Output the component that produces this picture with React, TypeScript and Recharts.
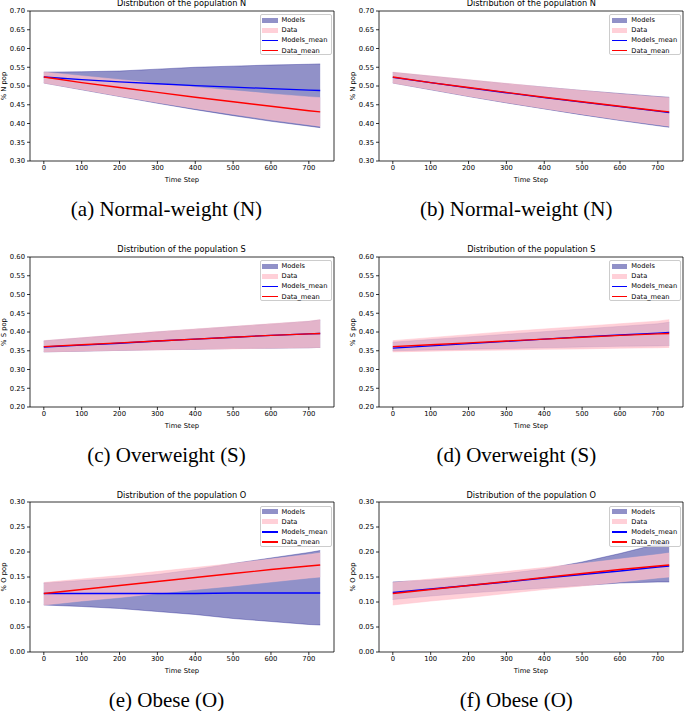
import React from "react";
import { Area, ComposedChart, Line, ReferenceArea, XAxis, YAxis } from "recharts";

const TIME = [0, 100, 200, 300, 400, 500, 600, 700, 730];
const X_TICKS = [0, 100, 200, 300, 400, 500, 600, 700];
const N_TICKS = [0.3, 0.35, 0.4, 0.45, 0.5, 0.55, 0.6, 0.65, 0.7];
const S_TICKS = [0.2, 0.25, 0.3, 0.35, 0.4, 0.45, 0.5, 0.55, 0.6];
const O_TICKS = [0, 0.05, 0.1, 0.15, 0.2, 0.25, 0.3];

// observed population shares (same in both columns)
const N_DATA_MEAN = [0.524, 0.509, 0.496, 0.483, 0.47, 0.458, 0.446, 0.434, 0.431];
const N_DATA_HIGH = [0.537, 0.527, 0.517, 0.507, 0.497, 0.488, 0.479, 0.471, 0.469];
const N_DATA_LOW = [0.508, 0.491, 0.473, 0.456, 0.44, 0.425, 0.41, 0.397, 0.393];

const S_DATA_MEAN = [0.361, 0.366, 0.371, 0.376, 0.381, 0.386, 0.391, 0.395, 0.396];
const S_DATA_HIGH = [0.377, 0.385, 0.393, 0.401, 0.408, 0.415, 0.422, 0.429, 0.433];
const S_DATA_LOW = [0.347, 0.349, 0.351, 0.352, 0.354, 0.355, 0.357, 0.358, 0.359];

const O_DATA_MEAN = [0.117, 0.125, 0.133, 0.141, 0.149, 0.157, 0.165, 0.172, 0.174];
const O_DATA_HIGH = [0.139, 0.146, 0.153, 0.161, 0.169, 0.177, 0.186, 0.195, 0.198];
const O_DATA_LOW = [0.094, 0.102, 0.109, 0.117, 0.125, 0.132, 0.14, 0.148, 0.15];

// model runs, left column
const N_MODELS_A_MEAN = [0.524, 0.517, 0.511, 0.506, 0.501, 0.497, 0.493, 0.489, 0.488];
const N_MODELS_A_HIGH = [0.537, 0.538, 0.54, 0.545, 0.55, 0.553, 0.556, 0.558, 0.559];
const N_MODELS_A_LOW = [0.508, 0.49, 0.472, 0.454, 0.437, 0.421, 0.406, 0.393, 0.389];

const S_MODELS_C_MEAN = [0.36, 0.365, 0.37, 0.376, 0.381, 0.386, 0.391, 0.395, 0.396];
const S_MODELS_C_HIGH = [0.376, 0.384, 0.392, 0.4, 0.407, 0.414, 0.421, 0.428, 0.432];
const S_MODELS_C_LOW = [0.347, 0.349, 0.351, 0.353, 0.354, 0.356, 0.357, 0.358, 0.359];

const O_MODELS_E_MEAN = [0.117, 0.117, 0.117, 0.117, 0.117, 0.118, 0.118, 0.118, 0.118];
const O_MODELS_E_HIGH = [0.138, 0.143, 0.148, 0.155, 0.165, 0.177, 0.188, 0.199, 0.203];
const O_MODELS_E_LOW = [0.094, 0.091, 0.087, 0.081, 0.075, 0.067, 0.061, 0.055, 0.054];

// model runs, right column
const N_MODELS_B_MEAN = [0.523, 0.509, 0.495, 0.482, 0.469, 0.457, 0.445, 0.433, 0.429];
const N_MODELS_B_HIGH = [0.536, 0.526, 0.516, 0.506, 0.497, 0.488, 0.48, 0.472, 0.47];
const N_MODELS_B_LOW = [0.508, 0.49, 0.472, 0.455, 0.439, 0.423, 0.408, 0.394, 0.39];

const S_MODELS_D_MEAN = [0.357, 0.363, 0.369, 0.375, 0.381, 0.387, 0.392, 0.397, 0.399];
const S_MODELS_D_HIGH = [0.373, 0.38, 0.387, 0.394, 0.401, 0.408, 0.415, 0.422, 0.426];
const S_MODELS_D_LOW = [0.35, 0.352, 0.354, 0.356, 0.358, 0.36, 0.362, 0.363, 0.364];

const O_MODELS_F_MEAN = [0.119, 0.126, 0.133, 0.14, 0.148, 0.155, 0.162, 0.17, 0.172];
const O_MODELS_F_HIGH = [0.14, 0.144, 0.15, 0.157, 0.166, 0.18, 0.197, 0.216, 0.219];
const O_MODELS_F_LOW = [0.105, 0.112, 0.118, 0.123, 0.128, 0.133, 0.138, 0.14, 0.14];

const X_DOMAIN: [number, number] = [-36.5, 766.5];
const YW = 30; // y axis width
const MT = 12;
const MR = 4;
const PW = 304;
const PH = 150;
const XH = 24;
const SANS = "'DejaVu Sans', sans-serif";
const TICK_FONT = 6.8;

interface Band {
  mean: number[];
  high: number[];
  low: number[];
}

interface PanelProps {
  left: number;
  top: number;
  pop: string;
  ticks: number[];
  models: Band;
  data: Band;
  caption: string;
}

function LegendBox({ x, y }: { x: number; y: number }) {
  const items = [
    { label: "Models", kind: "patch", color: "rgba(0,0,128,0.43)" },
    { label: "Data", kind: "patch", color: "rgba(255,192,203,0.75)" },
    { label: "Models_mean", kind: "line", color: "#0000ff" },
    { label: "Data_mean", kind: "line", color: "#ff0000" },
  ];
  return (
    <div
      style={{
        position: "absolute",
        left: x,
        top: y,
        width: 72,
        height: 41,
        border: "0.8px solid #cccccc",
        borderRadius: 2,
        background: "rgba(255,255,255,0.8)",
        boxSizing: "border-box",
      }}
    >
      {items.map((it, i) => {
        const cy = 5.2 + i * 10.1;
        return (
          <React.Fragment key={it.label}>
            {it.kind === "patch" ? (
              <div style={{ position: "absolute", left: 1.5, top: cy - 2.6, width: 15.5, height: 5.2, background: it.color }} />
            ) : (
              <div style={{ position: "absolute", left: 1.5, top: cy - 0.65, width: 15.5, height: 1.3, background: it.color }} />
            )}
            <div
              style={{
                position: "absolute",
                left: 21,
                top: cy - 5,
                height: 10,
                lineHeight: "10px",
                fontFamily: SANS,
                fontSize: 6.7,
                color: "#000",
                whiteSpace: "nowrap",
              }}
            >
              {it.label}
            </div>
          </React.Fragment>
        );
      })}
    </div>
  );
}

function Panel({ left, top, pop, ticks, models, data, caption }: PanelProps) {
  const rows = TIME.map((t, i) => ({
    t,
    models: [models.low[i], models.high[i]],
    data: [data.low[i], data.high[i]],
    modelsMean: models.mean[i],
    dataMean: data.mean[i],
  }));
  const yMin = ticks[0];
  const yMax = ticks[ticks.length - 1];
  const cx = left + PW / 2;

  return (
    <>
      <div style={{ position: "absolute", left: left - YW, top: top - MT }}>
        <ComposedChart
          width={YW + PW + MR}
          height={MT + PH + XH}
          data={rows}
          margin={{ top: MT, right: MR, bottom: 0, left: 0 }}
          style={{ fontFamily: SANS }}
        >
          <XAxis
            type="number"
            dataKey="t"
            domain={X_DOMAIN}
            ticks={X_TICKS}
            allowDataOverflow
            height={XH}
            axisLine={false}
            tickSize={3}
            tickMargin={1}
            tick={{ fontSize: TICK_FONT, fill: "#000" }}
            tickLine={{ stroke: "#000", strokeWidth: 0.8 }}
            label={{ value: "Time Step", position: "insideBottom", offset: 3, fontSize: TICK_FONT, fill: "#000" }}
          />
          <YAxis
            type="number"
            domain={[yMin, yMax]}
            ticks={ticks}
            allowDataOverflow
            width={YW}
            axisLine={false}
            tickSize={3}
            tickMargin={2}
            tick={{ fontSize: TICK_FONT, fill: "#000" }}
            tickLine={{ stroke: "#000", strokeWidth: 0.8 }}
            tickFormatter={(v: number) => v.toFixed(2)}
          />
          <Area
            dataKey="models"
            fill="#000080"
            fillOpacity={0.43}
            stroke="#000080"
            strokeOpacity={0.4}
            strokeWidth={0.8}
            isAnimationActive={false}
          />
          <Area
            dataKey="data"
            fill="#ffc0cb"
            fillOpacity={0.75}
            stroke="#ffc0cb"
            strokeOpacity={0.6}
            strokeWidth={0.8}
            isAnimationActive={false}
          />
          <Line dataKey="modelsMean" stroke="#0000ff" strokeWidth={1.3} dot={false} activeDot={false} isAnimationActive={false} />
          <Line dataKey="dataMean" stroke="#ff0000" strokeWidth={1.3} dot={false} activeDot={false} isAnimationActive={false} />
          <ReferenceArea x1={X_DOMAIN[0]} x2={X_DOMAIN[1]} y1={yMin} y2={yMax} fill="none" stroke="#000" strokeWidth={0.8} />
        </ComposedChart>
      </div>
      <div
        style={{
          position: "absolute",
          left: cx - 120,
          width: 240,
          top: top - 7.7 - 6,
          height: 12,
          lineHeight: "12px",
          textAlign: "center",
          fontFamily: SANS,
          fontSize: 8.2,
          color: "#000",
        }}
      >
        {`Distribution of the population ${pop}`}
      </div>
      <div
        style={{
          position: "absolute",
          left: left - 26 - 30,
          top: top + PH / 2 - 5,
          width: 60,
          height: 10,
          lineHeight: "10px",
          textAlign: "center",
          fontFamily: SANS,
          fontSize: TICK_FONT,
          color: "#000",
          transform: "rotate(-90deg)",
        }}
      >
        {`% ${pop} pop`}
      </div>
      <LegendBox x={left + PW - 74} y={top + 3.3} />
      <div
        style={{
          position: "absolute",
          left: left + 137 - 150,
          width: 300,
          top: top + 198 - 11,
          height: 22,
          lineHeight: "22px",
          textAlign: "center",
          fontFamily: "'Liberation Serif', serif",
          fontSize: 21,
          color: "#000",
        }}
      >
        {caption}
      </div>
    </>
  );
}

const COLS = [29.5, 379.3];
const ROWS = [10.7, 256.7, 502.3];

export default function App() {
  return (
    <div style={{ position: "absolute", left: 0, top: 0, width: 685, height: 711, overflow: "hidden", background: "#fff" }}>
      <Panel
        left={COLS[0]}
        top={ROWS[0]}
        pop="N"
        ticks={N_TICKS}
        models={{ mean: N_MODELS_A_MEAN, high: N_MODELS_A_HIGH, low: N_MODELS_A_LOW }}
        data={{ mean: N_DATA_MEAN, high: N_DATA_HIGH, low: N_DATA_LOW }}
        caption="(a) Normal-weight (N)"
      />
      <Panel
        left={COLS[1]}
        top={ROWS[0]}
        pop="N"
        ticks={N_TICKS}
        models={{ mean: N_MODELS_B_MEAN, high: N_MODELS_B_HIGH, low: N_MODELS_B_LOW }}
        data={{ mean: N_DATA_MEAN, high: N_DATA_HIGH, low: N_DATA_LOW }}
        caption="(b) Normal-weight (N)"
      />
      <Panel
        left={COLS[0]}
        top={ROWS[1]}
        pop="S"
        ticks={S_TICKS}
        models={{ mean: S_MODELS_C_MEAN, high: S_MODELS_C_HIGH, low: S_MODELS_C_LOW }}
        data={{ mean: S_DATA_MEAN, high: S_DATA_HIGH, low: S_DATA_LOW }}
        caption="(c) Overweight (S)"
      />
      <Panel
        left={COLS[1]}
        top={ROWS[1]}
        pop="S"
        ticks={S_TICKS}
        models={{ mean: S_MODELS_D_MEAN, high: S_MODELS_D_HIGH, low: S_MODELS_D_LOW }}
        data={{ mean: S_DATA_MEAN, high: S_DATA_HIGH, low: S_DATA_LOW }}
        caption="(d) Overweight (S)"
      />
      <Panel
        left={COLS[0]}
        top={ROWS[2]}
        pop="O"
        ticks={O_TICKS}
        models={{ mean: O_MODELS_E_MEAN, high: O_MODELS_E_HIGH, low: O_MODELS_E_LOW }}
        data={{ mean: O_DATA_MEAN, high: O_DATA_HIGH, low: O_DATA_LOW }}
        caption="(e) Obese (O)"
      />
      <Panel
        left={COLS[1]}
        top={ROWS[2]}
        pop="O"
        ticks={O_TICKS}
        models={{ mean: O_MODELS_F_MEAN, high: O_MODELS_F_HIGH, low: O_MODELS_F_LOW }}
        data={{ mean: O_DATA_MEAN, high: O_DATA_HIGH, low: O_DATA_LOW }}
        caption="(f) Obese (O)"
      />
    </div>
  );
}
